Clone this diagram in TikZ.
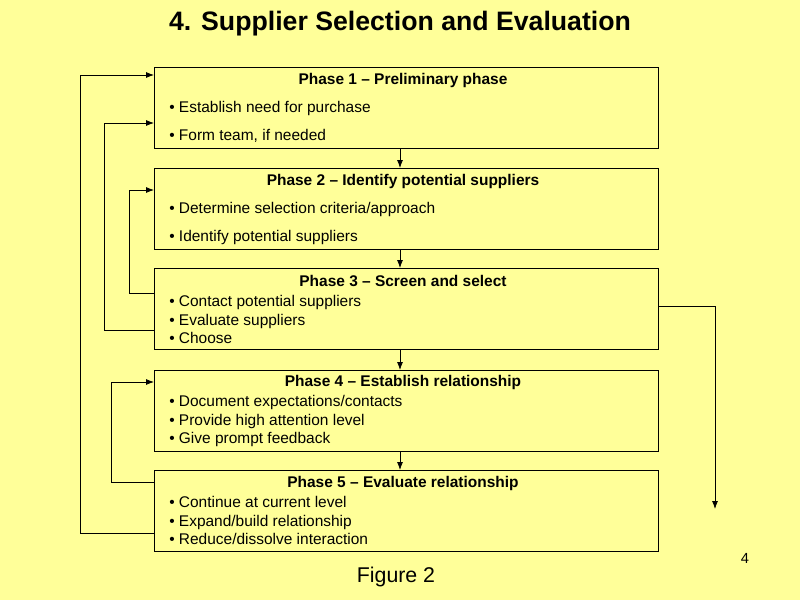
\documentclass[tikz,border=0pt]{standalone}
\usepackage{fontspec}
\setmainfont{Liberation Sans}
\usetikzlibrary{arrows.meta}
\begin{document}
\begin{tikzpicture}[x=0.75pt,y=-0.75pt,
  phase/.style={draw=black,fill=bgc,minimum width=504*0.75pt,minimum height=81*0.75pt,inner sep=0pt,anchor=north west},
  hd/.style={font=\fontsize{11.6}{13}\selectfont\bfseries,anchor=base},
  it/.style={font=\fontsize{11.6}{13}\selectfont,anchor=base west,inner sep=0pt},
  conn/.style={draw=black,line width=0.6pt,-{Latex[length=6pt,width=4.5pt]}}]
\definecolor{bgc}{HTML}{FFFF99}
\fill[bgc] (0,0) rectangle (800,600);
\useasboundingbox (0,0) rectangle (800,600);
\node[font=\fontsize{20}{23}\selectfont\bfseries] (title) at (400,24) {4. Supplier Selection and Evaluation};
\node[phase] (p1) at (154,67) {};
\node[phase] (p2) at (154,168) {};
\node[phase] (p3) at (154,268) {};
\node[phase] (p4) at (154,370) {};
\node[phase] (p5) at (154,470) {};
\node[hd] at (403,84) {Phase 1 – Preliminary phase};
\node[it] at (169,112) {• Establish need for purchase};
\node[it] at (169,140) {• Form team, if needed};
\node[hd] at (403,185) {Phase 2 – Identify potential suppliers};
\node[it] at (169,213) {• Determine selection criteria/approach};
\node[it] at (169,241) {• Identify potential suppliers};
\node[hd] at (403,286) {Phase 3 – Screen and select};
\node[it] at (169,306) {• Contact potential suppliers};
\node[it] at (169,325) {• Evaluate suppliers};
\node[it] at (169,343) {• Choose};
\node[hd] at (403,386) {Phase 4 – Establish relationship};
\node[it] at (169,406) {• Document expectations/contacts};
\node[it] at (169,425) {• Provide high attention level};
\node[it] at (169,443) {• Give prompt feedback};
\node[hd] at (403,487) {Phase 5 – Evaluate relationship};
\node[it] at (169,507) {• Continue at current level};
\node[it] at (169,526) {• Expand/build relationship};
\node[it] at (169,544) {• Reduce/dissolve interaction};
\node[font=\fontsize{16}{19}\selectfont] (fig) at (396,577) {Figure 2};
\node[font=\fontsize{11}{13}\selectfont] (num) at (745,558) {4};
\draw[conn] (p1.south -| 400,0) -- (p2.north -| 400,0);
\draw[conn] (p2.south -| 400,0) -- (p3.north -| 400,0);
\draw[conn] (p3.south -| 400,0) -- (p4.north -| 400,0);
\draw[conn] (p4.south -| 400,0) -- (p5.north -| 400,0);
\draw[conn] (p5.west |- 0,533) -- (80,533) -- (80,75) -- (p1.west |- 0,75);
\draw[conn] (p3.west |- 0,330) -- (104,330) -- (104,123) -- (p1.west |- 0,123);
\draw[conn] (p3.west |- 0,293) -- (129,293) -- (129,190) -- (p2.west |- 0,190);
\draw[conn] (p5.west |- 0,482) -- (111,482) -- (111,382) -- (p4.west |- 0,382);
\coordinate (rend) at (715,509);
\draw[conn] (p3.east |- 0,306) -- (715,306) -- (rend);
\end{tikzpicture}
\end{document}
